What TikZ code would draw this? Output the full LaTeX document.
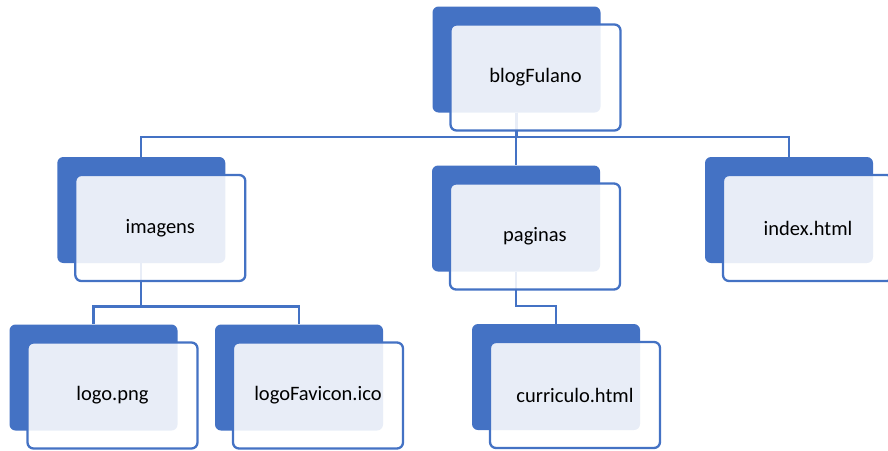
\documentclass[tikz,border=0pt]{standalone}
\usepackage{fontspec}
\setmainfont{Carlito}
\usetikzlibrary{positioning, calc}

\definecolor{officeblue}{HTML}{4472C4}

\begin{document}
\begin{tikzpicture}[
        x=1pt, y=-1pt,
        back/.style={fill=officeblue, rounded corners=6pt, minimum width=168pt, minimum height=106pt, inner sep=0pt},
        front/.style={draw=officeblue, line width=2.3pt, fill=white, fill opacity=0.88, text opacity=1,
                      rounded corners=6pt, minimum width=170pt, minimum height=106pt, inner sep=0pt},
        every node/.style={font=\fontsize{20.5}{24}\selectfont},
        link/.style={draw=officeblue, line width=2.2pt}
    ]
    \useasboundingbox (0,0) rectangle (888,450);

    % Back boxes (dark blue)
    \foreach \n/\x/\y in {root/516.5/59.5, imagens/141.3/210, paginas/516/218.5, index/789/210,
                          logo/93.5/377.5, favicon/299/377.5, curriculo/556/377}
        \node[back] (\n) at (\x,\y) {};

    % Bus lines
    \coordinate (busA) at (516.5,137);
    \coordinate (busB) at (141.3,306.5);
    \coordinate (busC) at (516,306);

    % Connectors
    \foreach \c in {imagens, paginas, index}
        \draw[link] (root.south) |- (busA -| \c.north) -- (\c.north);
    \foreach \c in {logo, favicon}
        \draw[link] (imagens.south) |- (busB -| \c.north) -- (\c.north);
    \draw[link] (paginas.south) |- (busC -| curriculo.north) -- (curriculo.north);

    % Front boxes with labels
    \foreach \n/\t in {root/blogFulano, imagens/imagens, paginas/paginas, index/index.html,
                       logo/logo.png, favicon/logoFavicon.ico, curriculo/curriculo.html}
        \node[front] (\n txt) at ($(\n)+(19,18)$) {\t};

\end{tikzpicture}
\end{document}
